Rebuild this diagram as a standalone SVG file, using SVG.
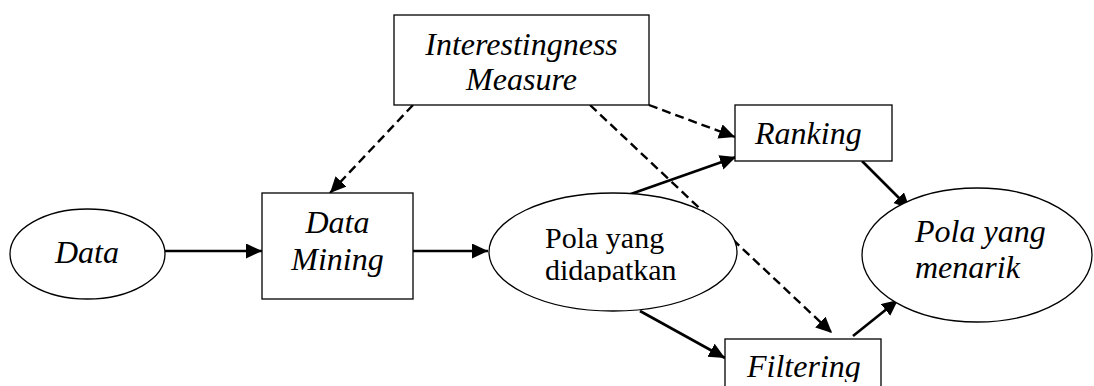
<svg xmlns="http://www.w3.org/2000/svg" width="1094" height="386" viewBox="0 0 1094 386">
<style>
.shape{fill:#fff;stroke:#000;stroke-width:1.3}
.t{font-family:"Liberation Serif","Times New Roman",serif;font-size:32px;fill:#000;font-style:italic}
.u{font-family:"Liberation Serif","Times New Roman",serif;font-size:30px;fill:#000}
.solid{fill:none;stroke:#000;stroke-width:2.6}
.dash{fill:none;stroke:#000;stroke-width:2.4;stroke-dasharray:9 5}
</style>
<defs>
<marker id="ah" markerUnits="userSpaceOnUse" markerWidth="17" markerHeight="16" refX="16" refY="7.5" orient="auto">
<path d="M0,0 L16,7.5 L0,15 z" fill="#000"/>
</marker>
<clipPath id="clipDid"><rect x="480" y="180" width="260" height="102"/></clipPath>
<clipPath id="clipFil"><rect x="720" y="330" width="170" height="52"/></clipPath>
</defs>
<g id="connectors">
<line class="solid" x1="165" y1="251" x2="262" y2="251" marker-end="url(#ah)"/>
<line class="solid" x1="413" y1="251" x2="488" y2="251" marker-end="url(#ah)"/>
<line class="dash" x1="413" y1="105" x2="330" y2="193" marker-end="url(#ah)"/>
<line class="dash" x1="649" y1="105" x2="735" y2="137" marker-end="url(#ah)"/>
<line class="dash" x1="590" y1="105" x2="832" y2="333" marker-end="url(#ah)"/>
<line class="solid" x1="628" y1="195" x2="736" y2="157" marker-end="url(#ah)"/>
<line class="solid" x1="640" y1="311" x2="725" y2="358" marker-end="url(#ah)"/>
<line class="solid" x1="862" y1="161" x2="910" y2="209" marker-end="url(#ah)"/>
<line class="solid" x1="853" y1="336" x2="898" y2="300" marker-end="url(#ah)"/>
</g>
<g id="interestingness">
<rect class="shape" x="394" y="15" width="255" height="90"/>
<text class="t" x="521.5" y="55" text-anchor="middle">Interestingness</text>
<text class="t" x="521.5" y="90" text-anchor="middle">Measure</text>
</g>
<g id="data">
<ellipse class="shape" cx="87.5" cy="254" rx="77.5" ry="45"/>
<text class="t" x="87" y="263" text-anchor="middle">Data</text>
</g>
<g id="data-mining">
<rect class="shape" x="262" y="193" width="151" height="106"/>
<text class="t" x="337.5" y="233" text-anchor="middle">Data</text>
<text class="t" x="337.5" y="270" text-anchor="middle">Mining</text>
</g>
<g id="pola-didapatkan">
<ellipse class="shape" cx="613" cy="252" rx="124" ry="59"/>
<text class="u" x="545" y="248">Pola yang</text>
<text class="u" x="545" y="280" clip-path="url(#clipDid)">didapatkan</text>
</g>
<g id="ranking">
<rect class="shape" x="735" y="105" width="157" height="56"/>
<text class="t" x="755" y="144">Ranking</text>
</g>
<g id="filtering">
<rect class="shape" x="725" y="339" width="156" height="60"/>
<text class="t" x="747" y="377" clip-path="url(#clipFil)">Filtering</text>
</g>
<g id="pola-menarik">
<ellipse class="shape" cx="977" cy="255" rx="115" ry="67"/>
<text class="t" x="915" y="242">Pola yang</text>
<text class="t" x="915" y="278">menarik</text>
</g>
</svg>
